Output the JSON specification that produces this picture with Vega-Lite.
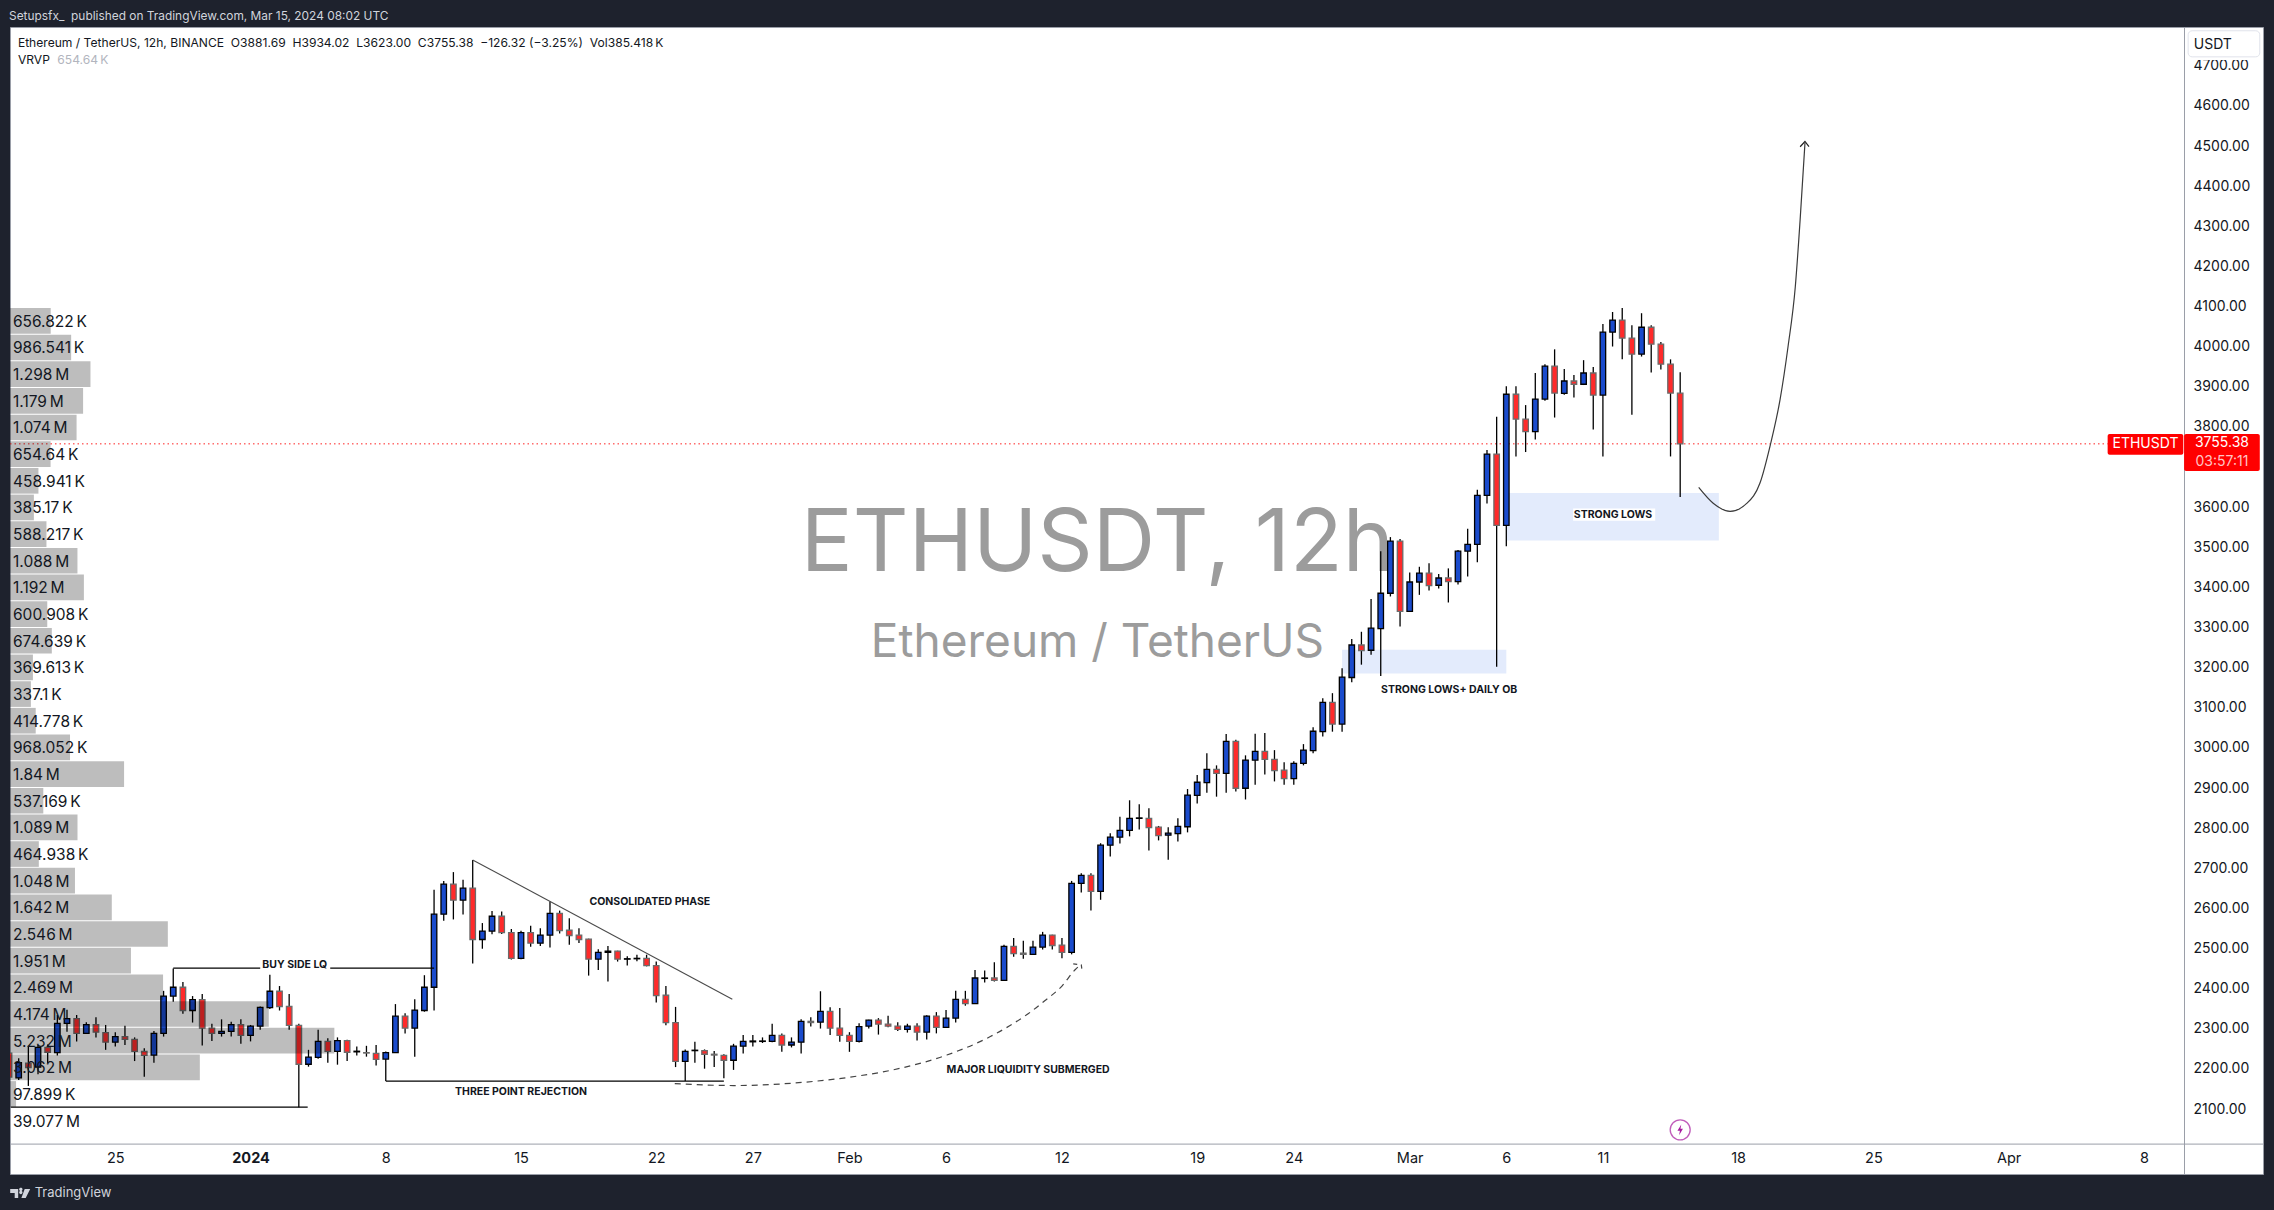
{
  "$schema": "https://vega.github.io/schema/vega-lite/v6.json",
  "width": 2253,
  "height": 1147,
  "autosize": {"type": "none"},
  "padding": {"left": 10, "top": 27, "right": 11, "bottom": 36},
  "background": "#1e222d",
  "view": {"fill": "#ffffff", "stroke": "#9a9ea8", "strokeWidth": 1},
  "config": {"text": {"font": "Inter"}, "axis": {"labelFont": "Inter"}},
  "datasets": {
    "candles": [
      {"t":"2023-12-19T12:00Z","o":2237,"h":2241,"l":2174,"c":2177},
      {"t":"2023-12-20T00:00Z","o":2175,"h":2224,"l":2170,"c":2213},
      {"t":"2023-12-20T12:00Z","o":2212,"h":2255,"l":2155,"c":2201},
      {"t":"2023-12-21T00:00Z","o":2202,"h":2257,"l":2184,"c":2251},
      {"t":"2023-12-21T12:00Z","o":2251,"h":2258,"l":2212,"c":2239},
      {"t":"2023-12-22T00:00Z","o":2238,"h":2332,"l":2231,"c":2311},
      {"t":"2023-12-22T12:00Z","o":2311,"h":2345,"l":2290,"c":2323},
      {"t":"2023-12-23T00:00Z","o":2323,"h":2332,"l":2266,"c":2286},
      {"t":"2023-12-23T12:00Z","o":2286,"h":2314,"l":2285,"c":2308},
      {"t":"2023-12-24T00:00Z","o":2308,"h":2326,"l":2276,"c":2289},
      {"t":"2023-12-24T12:00Z","o":2288,"h":2307,"l":2245,"c":2264},
      {"t":"2023-12-25T00:00Z","o":2264,"h":2289,"l":2253,"c":2278},
      {"t":"2023-12-25T12:00Z","o":2278,"h":2305,"l":2257,"c":2271},
      {"t":"2023-12-26T00:00Z","o":2271,"h":2276,"l":2217,"c":2241},
      {"t":"2023-12-26T12:00Z","o":2241,"h":2249,"l":2178,"c":2231},
      {"t":"2023-12-27T00:00Z","o":2232,"h":2292,"l":2213,"c":2286},
      {"t":"2023-12-27T12:00Z","o":2286,"h":2392,"l":2278,"c":2379},
      {"t":"2023-12-28T00:00Z","o":2379,"h":2448,"l":2365,"c":2401},
      {"t":"2023-12-28T12:00Z","o":2401,"h":2414,"l":2335,"c":2343},
      {"t":"2023-12-29T00:00Z","o":2343,"h":2379,"l":2313,"c":2370},
      {"t":"2023-12-29T12:00Z","o":2370,"h":2384,"l":2256,"c":2299},
      {"t":"2023-12-30T00:00Z","o":2299,"h":2310,"l":2267,"c":2286},
      {"t":"2023-12-30T12:00Z","o":2286,"h":2321,"l":2278,"c":2291},
      {"t":"2023-12-31T00:00Z","o":2291,"h":2315,"l":2278,"c":2308},
      {"t":"2023-12-31T12:00Z","o":2308,"h":2321,"l":2260,"c":2281},
      {"t":"2024-01-01T00:00Z","o":2281,"h":2307,"l":2266,"c":2304},
      {"t":"2024-01-01T12:00Z","o":2304,"h":2353,"l":2295,"c":2351},
      {"t":"2024-01-02T00:00Z","o":2350,"h":2432,"l":2347,"c":2391},
      {"t":"2024-01-02T12:00Z","o":2391,"h":2404,"l":2343,"c":2353},
      {"t":"2024-01-03T00:00Z","o":2353,"h":2384,"l":2295,"c":2306},
      {"t":"2024-01-03T12:00Z","o":2306,"h":2310,"l":2102,"c":2209},
      {"t":"2024-01-04T00:00Z","o":2209,"h":2245,"l":2203,"c":2227},
      {"t":"2024-01-04T12:00Z","o":2226,"h":2295,"l":2223,"c":2266},
      {"t":"2024-01-05T00:00Z","o":2266,"h":2274,"l":2213,"c":2241},
      {"t":"2024-01-05T12:00Z","o":2241,"h":2276,"l":2208,"c":2268},
      {"t":"2024-01-06T00:00Z","o":2268,"h":2270,"l":2217,"c":2239},
      {"t":"2024-01-06T12:00Z","o":2240,"h":2253,"l":2231,"c":2241.5},
      {"t":"2024-01-07T00:00Z","o":2238,"h":2255,"l":2228,"c":2237},
      {"t":"2024-01-07T12:00Z","o":2236,"h":2257,"l":2206,"c":2221},
      {"t":"2024-01-08T00:00Z","o":2222,"h":2241,"l":2167,"c":2238},
      {"t":"2024-01-08T12:00Z","o":2238,"h":2359,"l":2238,"c":2329},
      {"t":"2024-01-09T00:00Z","o":2329,"h":2336,"l":2286,"c":2299},
      {"t":"2024-01-09T12:00Z","o":2299,"h":2371,"l":2228,"c":2344},
      {"t":"2024-01-10T00:00Z","o":2343,"h":2431,"l":2340,"c":2401},
      {"t":"2024-01-10T12:00Z","o":2401,"h":2644,"l":2343,"c":2583},
      {"t":"2024-01-11T00:00Z","o":2583,"h":2666,"l":2567,"c":2658},
      {"t":"2024-01-11T12:00Z","o":2658,"h":2688,"l":2570,"c":2618},
      {"t":"2024-01-12T00:00Z","o":2618,"h":2669,"l":2582,"c":2648},
      {"t":"2024-01-12T12:00Z","o":2648,"h":2718,"l":2460,"c":2520},
      {"t":"2024-01-13T00:00Z","o":2520,"h":2561,"l":2497,"c":2541},
      {"t":"2024-01-13T12:00Z","o":2541,"h":2591,"l":2533,"c":2578},
      {"t":"2024-01-14T00:00Z","o":2578,"h":2590,"l":2534,"c":2537},
      {"t":"2024-01-14T12:00Z","o":2537,"h":2546,"l":2470,"c":2473},
      {"t":"2024-01-15T00:00Z","o":2473,"h":2542,"l":2471,"c":2537},
      {"t":"2024-01-15T12:00Z","o":2537,"h":2554,"l":2502,"c":2511},
      {"t":"2024-01-16T00:00Z","o":2511,"h":2548,"l":2504,"c":2531},
      {"t":"2024-01-16T12:00Z","o":2531,"h":2615,"l":2500,"c":2585},
      {"t":"2024-01-17T00:00Z","o":2585,"h":2592,"l":2535,"c":2542},
      {"t":"2024-01-17T12:00Z","o":2543,"h":2573,"l":2507,"c":2530},
      {"t":"2024-01-18T00:00Z","o":2531,"h":2548,"l":2511,"c":2520},
      {"t":"2024-01-18T12:00Z","o":2521,"h":2522,"l":2430,"c":2471},
      {"t":"2024-01-19T00:00Z","o":2471,"h":2496,"l":2444,"c":2488},
      {"t":"2024-01-19T12:00Z","o":2488,"h":2504,"l":2415,"c":2491},
      {"t":"2024-01-20T00:00Z","o":2491,"h":2492,"l":2465,"c":2471},
      {"t":"2024-01-20T12:00Z","o":2471,"h":2478,"l":2455,"c":2472},
      {"t":"2024-01-21T00:00Z","o":2472,"h":2482,"l":2466,"c":2473},
      {"t":"2024-01-21T12:00Z","o":2473,"h":2482,"l":2453,"c":2455},
      {"t":"2024-01-22T00:00Z","o":2455,"h":2465,"l":2363,"c":2380},
      {"t":"2024-01-22T12:00Z","o":2381,"h":2404,"l":2306,"c":2313},
      {"t":"2024-01-23T00:00Z","o":2313,"h":2352,"l":2202,"c":2216},
      {"t":"2024-01-23T12:00Z","o":2216,"h":2246,"l":2167,"c":2241},
      {"t":"2024-01-24T00:00Z","o":2243,"h":2265,"l":2213,"c":2244},
      {"t":"2024-01-24T12:00Z","o":2243,"h":2246,"l":2198,"c":2234},
      {"t":"2024-01-25T00:00Z","o":2234,"h":2242,"l":2202,"c":2232},
      {"t":"2024-01-25T12:00Z","o":2231,"h":2234,"l":2174,"c":2219},
      {"t":"2024-01-26T00:00Z","o":2219,"h":2260,"l":2195,"c":2254},
      {"t":"2024-01-26T12:00Z","o":2254,"h":2282,"l":2236,"c":2266},
      {"t":"2024-01-27T00:00Z","o":2265,"h":2282,"l":2253,"c":2267},
      {"t":"2024-01-27T12:00Z","o":2266,"h":2276,"l":2262,"c":2267},
      {"t":"2024-01-28T00:00Z","o":2266,"h":2310,"l":2264,"c":2281},
      {"t":"2024-01-28T12:00Z","o":2281,"h":2286,"l":2240,"c":2257},
      {"t":"2024-01-29T00:00Z","o":2257,"h":2276,"l":2251,"c":2264},
      {"t":"2024-01-29T12:00Z","o":2264,"h":2321,"l":2236,"c":2316},
      {"t":"2024-01-30T00:00Z","o":2316,"h":2326,"l":2303,"c":2313},
      {"t":"2024-01-30T12:00Z","o":2314,"h":2391,"l":2298,"c":2341},
      {"t":"2024-01-31T00:00Z","o":2341,"h":2351,"l":2282,"c":2299},
      {"t":"2024-01-31T12:00Z","o":2299,"h":2349,"l":2265,"c":2281},
      {"t":"2024-02-01T00:00Z","o":2281,"h":2289,"l":2240,"c":2266},
      {"t":"2024-02-01T12:00Z","o":2266,"h":2311,"l":2263,"c":2303},
      {"t":"2024-02-02T00:00Z","o":2304,"h":2320,"l":2298,"c":2319},
      {"t":"2024-02-02T12:00Z","o":2319,"h":2324,"l":2283,"c":2309},
      {"t":"2024-02-03T00:00Z","o":2309,"h":2330,"l":2301,"c":2304},
      {"t":"2024-02-03T12:00Z","o":2304,"h":2314,"l":2292,"c":2296},
      {"t":"2024-02-04T00:00Z","o":2296,"h":2310,"l":2288,"c":2304},
      {"t":"2024-02-04T12:00Z","o":2304,"h":2311,"l":2268,"c":2289},
      {"t":"2024-02-05T00:00Z","o":2289,"h":2331,"l":2271,"c":2329},
      {"t":"2024-02-05T12:00Z","o":2329,"h":2339,"l":2286,"c":2301},
      {"t":"2024-02-06T00:00Z","o":2301,"h":2344,"l":2300,"c":2324},
      {"t":"2024-02-06T12:00Z","o":2324,"h":2392,"l":2313,"c":2371},
      {"t":"2024-02-07T00:00Z","o":2371,"h":2392,"l":2355,"c":2360},
      {"t":"2024-02-07T12:00Z","o":2360,"h":2444,"l":2359,"c":2424},
      {"t":"2024-02-08T00:00Z","o":2423,"h":2443,"l":2413,"c":2424},
      {"t":"2024-02-08T12:00Z","o":2424,"h":2463,"l":2415,"c":2418},
      {"t":"2024-02-09T00:00Z","o":2418,"h":2507,"l":2418,"c":2503},
      {"t":"2024-02-09T12:00Z","o":2503,"h":2524,"l":2477,"c":2485},
      {"t":"2024-02-10T00:00Z","o":2486,"h":2517,"l":2472,"c":2483},
      {"t":"2024-02-10T12:00Z","o":2483,"h":2517,"l":2482,"c":2501},
      {"t":"2024-02-11T00:00Z","o":2501,"h":2539,"l":2495,"c":2531},
      {"t":"2024-02-11T12:00Z","o":2531,"h":2532,"l":2495,"c":2505},
      {"t":"2024-02-12T00:00Z","o":2506,"h":2524,"l":2473,"c":2488},
      {"t":"2024-02-12T12:00Z","o":2488,"h":2666,"l":2483,"c":2660},
      {"t":"2024-02-13T00:00Z","o":2660,"h":2685,"l":2637,"c":2680},
      {"t":"2024-02-13T12:00Z","o":2680,"h":2685,"l":2592,"c":2640},
      {"t":"2024-02-14T00:00Z","o":2640,"h":2760,"l":2619,"c":2755},
      {"t":"2024-02-14T12:00Z","o":2755,"h":2785,"l":2727,"c":2775},
      {"t":"2024-02-15T00:00Z","o":2775,"h":2826,"l":2759,"c":2792},
      {"t":"2024-02-15T12:00Z","o":2792,"h":2867,"l":2777,"c":2822},
      {"t":"2024-02-16T00:00Z","o":2822,"h":2857,"l":2794,"c":2823},
      {"t":"2024-02-16T12:00Z","o":2822,"h":2847,"l":2742,"c":2799},
      {"t":"2024-02-17T00:00Z","o":2800,"h":2803,"l":2767,"c":2779},
      {"t":"2024-02-17T12:00Z","o":2780,"h":2800,"l":2719,"c":2785},
      {"t":"2024-02-18T00:00Z","o":2784,"h":2822,"l":2764,"c":2802},
      {"t":"2024-02-18T12:00Z","o":2801,"h":2895,"l":2787,"c":2880},
      {"t":"2024-02-19T00:00Z","o":2879,"h":2930,"l":2859,"c":2912},
      {"t":"2024-02-19T12:00Z","o":2911,"h":2984,"l":2886,"c":2944},
      {"t":"2024-02-20T00:00Z","o":2944,"h":2954,"l":2876,"c":2934},
      {"t":"2024-02-20T12:00Z","o":2934,"h":3032,"l":2886,"c":3014},
      {"t":"2024-02-21T00:00Z","o":3014,"h":3018,"l":2889,"c":2897},
      {"t":"2024-02-21T12:00Z","o":2897,"h":2979,"l":2869,"c":2967},
      {"t":"2024-02-22T00:00Z","o":2967,"h":3033,"l":2906,"c":2989},
      {"t":"2024-02-22T12:00Z","o":2989,"h":3035,"l":2931,"c":2969},
      {"t":"2024-02-23T00:00Z","o":2969,"h":2992,"l":2914,"c":2941},
      {"t":"2024-02-23T12:00Z","o":2942,"h":2962,"l":2906,"c":2921},
      {"t":"2024-02-24T00:00Z","o":2921,"h":2964,"l":2906,"c":2959},
      {"t":"2024-02-24T12:00Z","o":2959,"h":3007,"l":2954,"c":2992},
      {"t":"2024-02-25T00:00Z","o":2991,"h":3049,"l":2984,"c":3039},
      {"t":"2024-02-25T12:00Z","o":3038,"h":3121,"l":3026,"c":3111},
      {"t":"2024-02-26T00:00Z","o":3111,"h":3134,"l":3038,"c":3057},
      {"t":"2024-02-26T12:00Z","o":3057,"h":3196,"l":3038,"c":3174},
      {"t":"2024-02-27T00:00Z","o":3173,"h":3269,"l":3161,"c":3254},
      {"t":"2024-02-27T12:00Z","o":3254,"h":3287,"l":3205,"c":3240},
      {"t":"2024-02-28T00:00Z","o":3241,"h":3369,"l":3230,"c":3296},
      {"t":"2024-02-28T12:00Z","o":3295,"h":3488,"l":3177,"c":3383},
      {"t":"2024-02-29T00:00Z","o":3383,"h":3523,"l":3375,"c":3513},
      {"t":"2024-02-29T12:00Z","o":3513,"h":3518,"l":3300,"c":3338},
      {"t":"2024-03-01T00:00Z","o":3338,"h":3435,"l":3337,"c":3411},
      {"t":"2024-03-01T12:00Z","o":3411,"h":3449,"l":3379,"c":3433},
      {"t":"2024-03-02T00:00Z","o":3433,"h":3458,"l":3390,"c":3402},
      {"t":"2024-03-02T12:00Z","o":3403,"h":3431,"l":3395,"c":3421},
      {"t":"2024-03-03T00:00Z","o":3421,"h":3445,"l":3360,"c":3412},
      {"t":"2024-03-03T12:00Z","o":3412,"h":3491,"l":3405,"c":3488},
      {"t":"2024-03-04T00:00Z","o":3488,"h":3544,"l":3425,"c":3505},
      {"t":"2024-03-04T12:00Z","o":3505,"h":3641,"l":3460,"c":3627},
      {"t":"2024-03-05T00:00Z","o":3627,"h":3740,"l":3607,"c":3730},
      {"t":"2024-03-05T12:00Z","o":3730,"h":3823,"l":3200,"c":3552},
      {"t":"2024-03-06T00:00Z","o":3552,"h":3899,"l":3500,"c":3879},
      {"t":"2024-03-06T12:00Z","o":3879,"h":3899,"l":3724,"c":3817},
      {"t":"2024-03-07T00:00Z","o":3817,"h":3852,"l":3735,"c":3786},
      {"t":"2024-03-07T12:00Z","o":3786,"h":3932,"l":3766,"c":3867},
      {"t":"2024-03-08T00:00Z","o":3867,"h":3954,"l":3863,"c":3949},
      {"t":"2024-03-08T12:00Z","o":3949,"h":3991,"l":3821,"c":3882},
      {"t":"2024-03-09T00:00Z","o":3881,"h":3942,"l":3878,"c":3912},
      {"t":"2024-03-09T12:00Z","o":3912,"h":3927,"l":3871,"c":3904},
      {"t":"2024-03-10T00:00Z","o":3904,"h":3964,"l":3902,"c":3932},
      {"t":"2024-03-10T12:00Z","o":3932,"h":3947,"l":3791,"c":3877},
      {"t":"2024-03-11T00:00Z","o":3877,"h":4054,"l":3724,"c":4034},
      {"t":"2024-03-11T12:00Z","o":4034,"h":4084,"l":3998,"c":4064},
      {"t":"2024-03-12T00:00Z","o":4064,"h":4094,"l":3966,"c":4019},
      {"t":"2024-03-12T12:00Z","o":4019,"h":4051,"l":3828,"c":3979},
      {"t":"2024-03-13T00:00Z","o":3979,"h":4081,"l":3973,"c":4046},
      {"t":"2024-03-13T12:00Z","o":4046,"h":4051,"l":3933,"c":4004},
      {"t":"2024-03-14T00:00Z","o":4004,"h":4009,"l":3941,"c":3954},
      {"t":"2024-03-14T12:00Z","o":3954,"h":3966,"l":3724,"c":3882},
      {"t":"2024-03-15T00:00Z","o":3881.69,"h":3934.02,"l":3623,"c":3755.38}
    ],
    "vrvp": [
      {"p0":4094,"p1":4030,"p":4062,"v":656822,"label":"656.822\u2009K"},
      {"p0":4027.6,"p1":3963.6,"p":3995.6,"v":986541,"label":"986.541\u2009K"},
      {"p0":3961.1,"p1":3897.1,"p":3929.1,"v":1298000,"label":"1.298\u2009M"},
      {"p0":3894.7,"p1":3830.7,"p":3862.7,"v":1179000,"label":"1.179\u2009M"},
      {"p0":3828.2,"p1":3764.2,"p":3796.2,"v":1074000,"label":"1.074\u2009M"},
      {"p0":3761.8,"p1":3697.8,"p":3729.8,"v":654640,"label":"654.64\u2009K"},
      {"p0":3695.3,"p1":3631.3,"p":3663.3,"v":458941,"label":"458.941\u2009K"},
      {"p0":3628.9,"p1":3564.9,"p":3596.9,"v":385170,"label":"385.17\u2009K"},
      {"p0":3562.4,"p1":3498.4,"p":3530.4,"v":588217,"label":"588.217\u2009K"},
      {"p0":3496,"p1":3432,"p":3464,"v":1088000,"label":"1.088\u2009M"},
      {"p0":3429.5,"p1":3365.5,"p":3397.5,"v":1192000,"label":"1.192\u2009M"},
      {"p0":3363,"p1":3299,"p":3331,"v":600908,"label":"600.908\u2009K"},
      {"p0":3296.6,"p1":3232.6,"p":3264.6,"v":674639,"label":"674.639\u2009K"},
      {"p0":3230.2,"p1":3166.2,"p":3198.2,"v":369613,"label":"369.613\u2009K"},
      {"p0":3163.7,"p1":3099.7,"p":3131.7,"v":337100,"label":"337.1\u2009K"},
      {"p0":3097.3,"p1":3033.3,"p":3065.3,"v":414778,"label":"414.778\u2009K"},
      {"p0":3030.8,"p1":2966.8,"p":2998.8,"v":968052,"label":"968.052\u2009K"},
      {"p0":2964.4,"p1":2900.4,"p":2932.4,"v":1840000,"label":"1.84\u2009M"},
      {"p0":2897.9,"p1":2833.9,"p":2865.9,"v":537169,"label":"537.169\u2009K"},
      {"p0":2831.5,"p1":2767.5,"p":2799.5,"v":1089000,"label":"1.089\u2009M"},
      {"p0":2765,"p1":2701,"p":2733,"v":464938,"label":"464.938\u2009K"},
      {"p0":2698.6,"p1":2634.6,"p":2666.6,"v":1048000,"label":"1.048\u2009M"},
      {"p0":2632.1,"p1":2568.1,"p":2600.1,"v":1642000,"label":"1.642\u2009M"},
      {"p0":2565.7,"p1":2501.7,"p":2533.7,"v":2546000,"label":"2.546\u2009M"},
      {"p0":2499.2,"p1":2435.2,"p":2467.2,"v":1951000,"label":"1.951\u2009M"},
      {"p0":2432.8,"p1":2368.8,"p":2400.8,"v":2469000,"label":"2.469\u2009M"},
      {"p0":2366.3,"p1":2302.3,"p":2334.3,"v":4174000,"label":"4.174\u2009M"},
      {"p0":2299.9,"p1":2235.9,"p":2267.9,"v":5232000,"label":"5.232\u2009M"},
      {"p0":2233.4,"p1":2169.4,"p":2201.4,"v":3062000,"label":"3.062\u2009M"},
      {"p0":2167,"p1":2103,"p":2135,"v":97899,"label":"97.899\u2009K"},
      {"p":2068,"label":"39.077\u2009M"}
    ]
  },
  "layer": [
    {
      "encoding": {
        "x": {
          "field": "t", "type": "temporal",
          "scale": {"type": "utc", "domain": ["2023-12-19T13:12:00Z", "2024-04-14T04:00:00Z"], "nice": false, "padding": 0},
          "axis": {
            "orient": "bottom", "offset": -30.4, "title": null, "grid": false, "ticks": false,
            "domainColor": "#9a9ea8", "domainWidth": 1, "labelPadding": 8, "labelFontSize": 14.5, "labelColor": "#131722",
            "labelOverlap": false, "labelBound": false, "labelFlush": false,
            "values": ["2023-12-25T00:00:00Z", "2024-01-01T00:00:00Z", "2024-01-08T00:00:00Z", "2024-01-15T00:00:00Z", "2024-01-22T00:00:00Z", "2024-01-27T00:00:00Z", "2024-02-01T00:00:00Z", "2024-02-06T00:00:00Z", "2024-02-12T00:00:00Z", "2024-02-19T00:00:00Z", "2024-02-24T00:00:00Z", "2024-03-01T00:00:00Z", "2024-03-06T00:00:00Z", "2024-03-11T00:00:00Z", "2024-03-18T00:00:00Z", "2024-03-25T00:00:00Z", "2024-04-01T00:00:00Z", "2024-04-08T00:00:00Z"],
            "labelExpr": "utcdate(datum.value) == 1 ? (utcmonth(datum.value) == 0 ? '2024' : utcFormat(datum.value, '%b')) : '' + utcdate(datum.value)",
            "labelFontWeight": {"condition": {"test": "utcmonth(datum.value) == 0 && utcdate(datum.value) == 1", "value": 700}, "value": 400}
          }
        },
        "y": {
          "field": "p", "type": "quantitative",
          "scale": {"domain": [1935.5, 4794.4], "nice": false, "zero": false},
          "axis": {
            "orient": "right", "offset": -79, "title": null, "grid": false, "ticks": false,
            "domainColor": "#9a9ea8", "domainWidth": 1, "labelPadding": 9, "labelFontSize": 14, "labelColor": "#131722", "labelAlign": "left", "labelOffset": 1,
            "labelOverlap": false, "labelBound": false, "labelFlush": false, "format": ".2f",
            "values": [2100, 2200, 2300, 2400, 2500, 2600, 2700, 2800, 2900, 3000, 3100, 3200, 3300, 3400, 3500, 3600, 3800, 3900, 4000, 4100, 4200, 4300, 4400, 4500, 4600, 4700]
          }
        }
      },
      "layer": [
        {
          "data": {"values": [{"t": "2024-02-13T20:00Z", "p": 3503, "label": "ETHUSDT, 12h"}]},
          "mark": {"type": "text", "fontSize": 86.5, "color": "#9c9c9c", "align": "center", "baseline": "middle"},
          "encoding": {"text": {"field": "label"}}
        },
        {
          "data": {"values": [{"t": "2024-02-13T20:00Z", "p": 3260, "label": "Ethereum / TetherUS"}]},
          "mark": {"type": "text", "fontSize": 46, "color": "#9c9c9c", "align": "center", "baseline": "middle"},
          "encoding": {"text": {"field": "label"}}
        },
        {
          "data": {"values": [
            {"t": "2024-03-06T00:00Z", "t2": "2024-03-17T00:00Z", "p": 3633, "p2": 3514.4},
            {"t": "2024-02-26T12:00Z", "t2": "2024-03-06T00:00Z", "p": 3242, "p2": 3183}
          ]},
          "mark": {"type": "rect", "fill": "#e3ebfc"},
          "encoding": {"x2": {"field": "t2"}, "y2": {"field": "p2"}}
        },
        {
          "data": {"values": [{"t": "2024-03-09T11:00Z", "t2": "2024-03-13T17:00Z", "p": 3594, "p2": 3564}]},
          "mark": {"type": "rect", "fill": "#ffffff"},
          "encoding": {"x2": {"field": "t2"}, "y2": {"field": "p2"}}
        },
        {
          "data": {"values": [{"t": "2023-12-19T13:12Z", "t2": "2024-04-06T03:00Z", "p": 3755.38}]},
          "mark": {"type": "rule", "color": "#ff2020", "strokeWidth": 1, "strokeDash": [1.5, 3]},
          "encoding": {"x2": {"field": "t2"}}
        },
        {
          "data": {"name": "candles"},
          "mark": {"type": "rule", "color": "#000000", "strokeWidth": 1.3, "clip": true},
          "encoding": {
            "y": {"field": "l", "type": "quantitative"},
            "y2": {"field": "h"}
          }
        },
        {
          "data": {"name": "candles"},
          "mark": {"type": "bar", "size": 5.5, "strokeWidth": 1.3, "clip": true},
          "encoding": {
            "y": {"field": "o", "type": "quantitative"},
            "y2": {"field": "c"},
            "fill": {"condition": {"test": "datum.c >= datum.o", "value": "#1a4bcc"}, "value": "#ff2a2a"},
            "stroke": {"condition": {"test": "datum.c >= datum.o", "value": "#000000"}, "value": "#6b6b6b"}
          }
        },
        {
          "data": {"values": [
            {"t": "2023-12-28T00:00Z", "t2": "2024-01-01T12:00Z", "p": 2448.5},
            {"t": "2024-01-05T03:00Z", "t2": "2024-01-10T12:00Z", "p": 2448.5},
            {"t": "2023-12-19T14:00Z", "t2": "2024-01-03T23:00Z", "p": 2102},
            {"t": "2024-01-08T00:00Z", "t2": "2024-01-25T12:00Z", "p": 2166.8}
          ]},
          "mark": {"type": "rule", "color": "#000000", "strokeWidth": 1.3},
          "encoding": {"x2": {"field": "t2"}}
        },
        {
          "data": {"values": [
            {"t": "2024-01-12T12:00Z", "p": 2718.4},
            {"t": "2024-01-25T22:30Z", "p": 2371}
          ]},
          "mark": {"type": "line", "color": "#4a4a4a", "strokeWidth": 1.1},
          "encoding": {}
        },
        {
          "data": {"values": [
            {"t": "2024-01-22T23:00Z", "p": 2161},
            {"t": "2024-01-26T00:00Z", "p": 2156},
            {"t": "2024-01-29T02:00Z", "p": 2162},
            {"t": "2024-02-01T01:00Z", "p": 2177},
            {"t": "2024-02-03T06:00Z", "p": 2195},
            {"t": "2024-02-06T01:00Z", "p": 2232},
            {"t": "2024-02-08T07:00Z", "p": 2278},
            {"t": "2024-02-09T07:00Z", "p": 2305},
            {"t": "2024-02-10T06:00Z", "p": 2335},
            {"t": "2024-02-11T03:00Z", "p": 2368},
            {"t": "2024-02-12T00:00Z", "p": 2404},
            {"t": "2024-02-12T16:00Z", "p": 2444},
            {"t": "2024-02-12T23:00Z", "p": 2457}
          ]},
          "mark": {"type": "line", "color": "#444444", "strokeWidth": 1.2, "strokeDash": [6, 5], "interpolate": "monotone"},
          "encoding": {}
        },
        {
          "data": {"values": [
            {"t": "2024-02-12T14:00Z", "p": 2459},
            {"t": "2024-02-13T00:00Z", "p": 2457},
            {"t": "2024-02-13T01:00Z", "p": 2442}
          ]},
          "mark": {"type": "line", "color": "#444444", "strokeWidth": 1.2, "strokeDash": [4, 4]},
          "encoding": {}
        },
        {
          "data": {"values": [
            {"t": "2024-03-15T23:00Z", "p": 3647},
            {"t": "2024-03-16T17:00Z", "p": 3607.5},
            {"t": "2024-03-17T14:00Z", "p": 3587},
            {"t": "2024-03-18T11:00Z", "p": 3607.5},
            {"t": "2024-03-19T03:00Z", "p": 3657},
            {"t": "2024-03-19T16:00Z", "p": 3753},
            {"t": "2024-03-20T04:00Z", "p": 3865},
            {"t": "2024-03-20T14:00Z", "p": 3998},
            {"t": "2024-03-20T23:00Z", "p": 4147},
            {"t": "2024-03-21T05:00Z", "p": 4314},
            {"t": "2024-03-21T11:00Z", "p": 4505}
          ]},
          "mark": {"type": "line", "color": "#3a3a3a", "strokeWidth": 1.2, "interpolate": "monotone"},
          "encoding": {}
        },
        {
          "data": {"values": [
            {"t": "2024-03-21T05:00Z", "p": 4496},
            {"t": "2024-03-21T11:00Z", "p": 4509},
            {"t": "2024-03-21T16:00Z", "p": 4496}
          ]},
          "mark": {"type": "line", "color": "#222222", "strokeWidth": 1.2},
          "encoding": {}
        },
        {
          "data": {"values": [
            {"t": "2024-03-11T12:30Z", "p": 3580, "label": "STRONG LOWS"},
            {"t": "2024-03-03T01:00Z", "p": 3144, "label": "STRONG LOWS+ DAILY OB"},
            {"t": "2024-01-03T07:00Z", "p": 2458, "label": "BUY SIDE LQ"},
            {"t": "2024-01-15T00:00Z", "p": 2142, "label": "THREE POINT REJECTION"},
            {"t": "2024-01-21T16:00Z", "p": 2615.5, "label": "CONSOLIDATED PHASE"},
            {"t": "2024-02-10T06:00Z", "p": 2197, "label": "MAJOR LIQUIDITY SUBMERGED"}
          ]},
          "mark": {"type": "text", "fontSize": 10.5, "fontWeight": 700, "color": "#131722", "align": "center", "baseline": "middle", "dy": 1},
          "encoding": {"text": {"field": "label"}}
        },
        {
          "data": {"values": [{"t": "2024-03-15T00:00Z", "p": 2045.5}]},
          "mark": {"type": "point", "shape": "circle", "size": 400, "filled": false, "stroke": "#a7199e", "strokeWidth": 1.3},
          "encoding": {}
        },
        {
          "data": {"values": [{"t": "2024-03-15T00:00Z", "p": 2045.5}]},
          "mark": {"type": "point", "shape": "M0.2 -1L-0.5 0.15L-0.05 0.15L-0.2 1L0.5 -0.2L0.05 -0.2Z", "size": 120, "filled": true, "fill": "#a7199e", "opacity": 1},
          "encoding": {}
        },
        {
          "data": {"values": [{"t": "2024-04-06T03:00Z", "t2": "2024-04-10T01:00Z", "p": 3780, "p2": 3728}]},
          "mark": {"type": "rect", "fill": "#ff0000", "cornerRadius": 2},
          "encoding": {"x2": {"field": "t2"}, "y2": {"field": "p2"}}
        },
        {
          "data": {"values": [{"t": "2024-04-10T02:00Z", "t2": "2024-04-14T00:00Z", "p": 3780, "p2": 3688}]},
          "mark": {"type": "rect", "fill": "#ff0000", "cornerRadius": 2},
          "encoding": {"x2": {"field": "t2"}, "y2": {"field": "p2"}}
        },
        {
          "data": {"values": [
            {"t": "2024-04-08T02:00Z", "p": 3754, "label": "ETHUSDT"},
            {"t": "2024-04-12T01:00Z", "p": 3758, "label": "3755.38"}
          ]},
          "mark": {"type": "text", "fontSize": 14, "color": "#ffffff", "align": "center", "baseline": "middle"},
          "encoding": {"text": {"field": "label"}}
        },
        {
          "data": {"values": [{"t": "2024-04-12T01:00Z", "p": 3711, "label": "03:57:11"}]},
          "mark": {"type": "text", "fontSize": 14, "color": "#ffc4c4", "align": "center", "baseline": "middle"},
          "encoding": {"text": {"field": "label"}}
        },
        {
          "data": {"values": [{"t": "2024-04-10T07:00Z", "t2": "2024-04-14T00:00Z", "p": 4785, "p2": 4712}]},
          "mark": {"type": "rect", "fill": "#ffffff"},
          "encoding": {"x2": {"field": "t2"}, "y2": {"field": "p2"}}
        },
        {
          "data": {"values": [{"t": "2024-04-10T07:00Z", "t2": "2024-04-14T00:00Z", "p": 4785, "p2": 4720}]},
          "mark": {"type": "rect", "fill": "#ffffff", "stroke": "#e0e3eb", "strokeWidth": 1, "cornerRadius": 4},
          "encoding": {"x2": {"field": "t2"}, "y2": {"field": "p2"}}
        },
        {
          "data": {"values": [{"t": "2024-04-10T14:00Z", "p": 4750, "label": "USDT"}]},
          "mark": {"type": "text", "fontSize": 14, "color": "#131722", "align": "left", "baseline": "middle"},
          "encoding": {"text": {"field": "label"}}
        },
        {
          "data": {"values": [{"t": "2023-12-19T12:00Z", "p": 4825, "label": "Setupsfx_\u00a0\u00a0published on TradingView.com, Mar 15, 2024 08:02 UTC"}]},
          "mark": {"type": "text", "fontSize": 11.9, "color": "#d1d4dc", "align": "left", "baseline": "middle", "dy": 1},
          "encoding": {"text": {"field": "label"}}
        },
        {
          "data": {"values": [
            {"t": "2023-12-19T23:00Z", "p": 4755.6, "label": "Ethereum / TetherUS, 12h, BINANCE\u00a0\u00a0O3881.69\u00a0\u00a0H3934.02\u00a0\u00a0L3623.00\u00a0\u00a0C3755.38\u00a0\u00a0\u2212126.32 (\u22123.25%)\u00a0\u00a0Vol385.418\u2009K"},
            {"t": "2023-12-19T23:00Z", "p": 4712, "label": "VRVP"}
          ]},
          "mark": {"type": "text", "fontSize": 12.1, "color": "#131722", "align": "left", "baseline": "middle"},
          "encoding": {"text": {"field": "label"}}
        },
        {
          "data": {"values": [{"t": "2023-12-22T00:00Z", "p": 4712, "label": "654.64\u2009K"}]},
          "mark": {"type": "text", "fontSize": 12.1, "color": "#b2b5be", "align": "left", "baseline": "middle"},
          "encoding": {"text": {"field": "label"}}
        },
        {
          "data": {"values": [{"t": "2023-12-20T00:00Z", "p": 1887, "label": "TradingView"}]},
          "mark": {"type": "text", "fontSize": 13, "color": "#d1d4dc", "align": "left", "baseline": "middle", "dx": 16},
          "encoding": {"text": {"field": "label"}}
        },
        {
          "data": {"values": [{"t": "2023-12-20T00:00Z", "p": 1887}]},
          "mark": {"type": "point", "shape": "M-1 -0.45L-0.2 -0.45L-0.2 0.45L-0.55 0.45L-0.55 -0.05L-1 -0.05Z M0.14 -0.25A0.17 0.17 0 1 1 -0.01 -0.25A0.17 0.17 0 1 1 0.14 -0.25Z M0.45 -0.45L1 -0.45L0.55 0.45L0.12 0.45Z", "size": 400, "filled": true, "fill": "#d1d4dc", "opacity": 1, "xOffset": 1.5},
          "encoding": {}
        }
      ]
    },
    {
      "data": {"name": "vrvp"},
      "layer": [
        {
          "mark": {"type": "rect", "fill": "#000000", "opacity": 0.26},
          "encoding": {
            "x": {"field": "v", "type": "quantitative", "axis": null, "scale": {"domain": [0, 36340000], "nice": false, "zero": false}},
            "x2": {"datum": 0},
            "y": {"field": "p0", "type": "quantitative"},
            "y2": {"field": "p1"}
          }
        },
        {
          "mark": {"type": "text", "fontSize": 15.5, "color": "#131722", "align": "left", "baseline": "middle", "dx": 3, "dy": 1},
          "encoding": {
            "x": {"datum": 0, "type": "quantitative", "axis": null},
            "y": {"field": "p", "type": "quantitative"},
            "text": {"field": "label"}
          }
        }
      ]
    }
  ],
  "resolve": {"scale": {"x": "independent"}}
}
